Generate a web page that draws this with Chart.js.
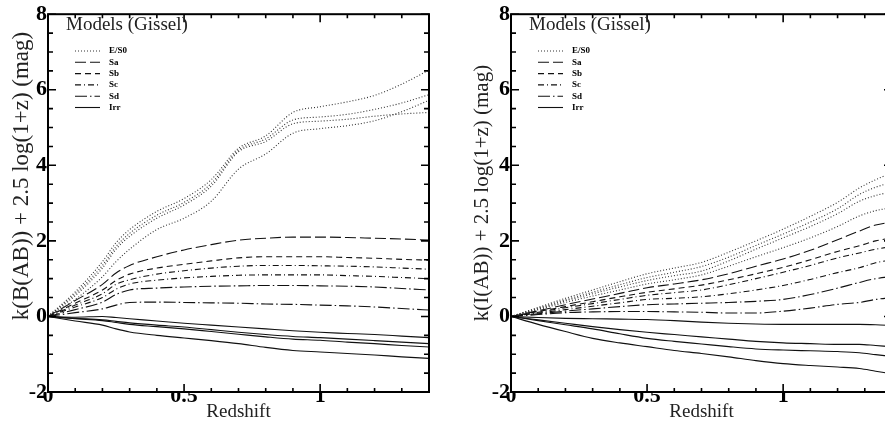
<!DOCTYPE html>
<html>
<head>
<meta charset="utf-8">
<script src="https://cdn.jsdelivr.net/npm/chart.js@4.4.1/dist/chart.umd.min.js"></script>
<style>
  html, body { margin: 0; padding: 0; background: #fff; overflow: hidden; width: 885px; height: 423px; }
  canvas { position: absolute; top: 0; }
</style>
</head>
<body>
<canvas id="chartB" width="440" height="423" style="left:0"></canvas>
<canvas id="chartI" width="460" height="423" style="left:440px"></canvas>
<script>
// k-corrections, Gissel models
const modelTypes = ["E/S0", "Sa", "Sb", "Sc", "Sd", "Irr"];

// B band (left panel)
const zB = [0, 0.1, 0.2, 0.25, 0.3, 0.4, 0.5, 0.6, 0.7, 0.8, 0.9, 1.0, 1.1, 1.2, 1.3, 1.4];
const bE1 = [0, 0.65, 1.45, 1.95, 2.3, 2.78, 3.12, 3.62, 4.45, 4.78, 5.4, 5.55, 5.68, 5.85, 6.15, 6.52];
const bE2 = [0, 0.6, 1.35, 1.85, 2.2, 2.68, 3.02, 3.52, 4.4, 4.7, 5.2, 5.28, 5.35, 5.48, 5.65, 5.87];
const bE3 = [0, 0.55, 1.28, 1.78, 2.12, 2.6, 2.95, 3.45, 4.36, 4.63, 5.1, 5.17, 5.22, 5.3, 5.36, 5.4];
const bE4 = [0, 0.45, 1.05, 1.45, 1.78, 2.3, 2.6, 3.05, 3.9, 4.3, 4.85, 4.97, 5.05, 5.18, 5.42, 5.72];
const bSa = [0, 0.42, 0.85, 1.15, 1.35, 1.58, 1.76, 1.9, 2.02, 2.07, 2.1, 2.1, 2.09, 2.07, 2.05, 2.02];
const bSb = [0, 0.35, 0.7, 0.95, 1.12, 1.28, 1.38, 1.47, 1.55, 1.58, 1.58, 1.58, 1.56, 1.54, 1.51, 1.49];
const bSc1 = [0, 0.3, 0.6, 0.85, 0.97, 1.12, 1.21, 1.28, 1.33, 1.35, 1.35, 1.34, 1.33, 1.31, 1.28, 1.25];
const bSc2 = [0, 0.25, 0.5, 0.72, 0.86, 0.96, 1.02, 1.06, 1.09, 1.1, 1.1, 1.1, 1.08, 1.06, 1.03, 1.0];
const bSd1 = [0, 0.18, 0.38, 0.58, 0.7, 0.75, 0.78, 0.8, 0.81, 0.82, 0.82, 0.81, 0.8, 0.78, 0.74, 0.7];
const bSd2 = [0, 0.1, 0.2, 0.3, 0.37, 0.38, 0.37, 0.36, 0.35, 0.33, 0.32, 0.3, 0.28, 0.25, 0.21, 0.17];
const bIrr1 = [0, -0.02, 0.0, -0.03, -0.06, -0.12, -0.18, -0.23, -0.28, -0.33, -0.38, -0.42, -0.45, -0.48, -0.52, -0.56];
const bIrr2 = [0, -0.05, -0.09, -0.13, -0.17, -0.23, -0.28, -0.35, -0.42, -0.48, -0.53, -0.56, -0.6, -0.64, -0.68, -0.72];
const bIrr3 = [0, -0.06, -0.11, -0.16, -0.21, -0.27, -0.33, -0.4, -0.47, -0.54, -0.6, -0.63, -0.68, -0.72, -0.77, -0.81];
const bIrr4 = [0, -0.12, -0.23, -0.33, -0.41, -0.5, -0.57, -0.64, -0.72, -0.82, -0.9, -0.94, -0.98, -1.02, -1.07, -1.11];

// I band (right panel)
const zI = [0, 0.1, 0.2, 0.3, 0.4, 0.5, 0.6, 0.7, 0.8, 0.9, 1.0, 1.1, 1.2, 1.28, 1.34, 1.4];
const iE1 = [0, 0.24, 0.48, 0.7, 0.92, 1.13, 1.28, 1.43, 1.7, 2.0, 2.31, 2.65, 3.02, 3.4, 3.62, 3.8];
const iE2 = [0, 0.22, 0.44, 0.64, 0.84, 1.03, 1.17, 1.32, 1.57, 1.88, 2.18, 2.5, 2.85, 3.23, 3.42, 3.55];
const iE3 = [0, 0.2, 0.41, 0.6, 0.78, 0.95, 1.08, 1.2, 1.47, 1.78, 2.08, 2.38, 2.72, 3.05, 3.2, 3.3];
const iE4 = [0, 0.18, 0.37, 0.54, 0.7, 0.86, 0.97, 1.1, 1.33, 1.58, 1.82, 2.08, 2.38, 2.66, 2.8, 2.88];
const iSa = [0, 0.15, 0.31, 0.46, 0.61, 0.76, 0.86, 0.97, 1.13, 1.33, 1.52, 1.75, 2.03, 2.26, 2.42, 2.5];
const iSb = [0, 0.13, 0.26, 0.39, 0.52, 0.64, 0.73, 0.83, 0.97, 1.13, 1.3, 1.5, 1.72, 1.87, 2.0, 2.08];
const iSc1 = [0, 0.11, 0.23, 0.34, 0.45, 0.56, 0.63, 0.7, 0.84, 1.0, 1.17, 1.35, 1.55, 1.68, 1.78, 1.85];
const iSc2 = [0, 0.09, 0.18, 0.27, 0.36, 0.45, 0.48, 0.52, 0.6, 0.7, 0.82, 0.98, 1.16, 1.29, 1.42, 1.5];
const iSd1 = [0, 0.07, 0.14, 0.2, 0.26, 0.31, 0.33, 0.35, 0.37, 0.4, 0.45, 0.58, 0.75, 0.9, 1.0, 1.06];
const iSd2 = [0, 0.05, 0.1, 0.12, 0.13, 0.13, 0.12, 0.11, 0.09, 0.09, 0.14, 0.22, 0.32, 0.37, 0.45, 0.5];
const iIrr1 = [0, -0.03, -0.05, -0.06, -0.07, -0.08, -0.11, -0.15, -0.18, -0.2, -0.21, -0.21, -0.21, -0.21, -0.22, -0.24];
const iIrr2 = [0, -0.09, -0.18, -0.27, -0.35, -0.42, -0.48, -0.54, -0.6, -0.66, -0.7, -0.72, -0.74, -0.74, -0.77, -0.8];
const iIrr3 = [0, -0.11, -0.22, -0.33, -0.46, -0.58, -0.66, -0.73, -0.8, -0.86, -0.89, -0.91, -0.93, -0.96, -1.01, -1.06];
const iIrr4 = [0, -0.21, -0.4, -0.58, -0.7, -0.8, -0.9, -0.98, -1.07, -1.17, -1.25, -1.3, -1.34, -1.38, -1.45, -1.52];

const xTicksMinor = [0, 0.1, 0.2, 0.3, 0.4, 0.5, 0.6, 0.7, 0.8, 0.9, 1, 1.1, 1.2, 1.3, 1.4];
const yRange = [-2, 8];

const serif = "'Liberation Serif', 'Times New Roman', serif";

const lineStyles = {
  "E/S0": { dash: [1, 2], color: "#333" },
  "Sa": { dash: [11, 4], color: "#111" },
  "Sb": { dash: [6, 4], color: "#111" },
  "Sc": { dash: [6, 3, 1, 3], color: "#111" },
  "Sd": { dash: [12, 3, 1.5, 3], color: "#111" },
  "Irr": { dash: [], color: "#111" },
};

function makeDatasets(z, curves) {
  return curves.map(([type, vals]) => ({
    label: type,
    data: z.map((zz, i) => ({ x: zz, y: vals[i] })),
    borderColor: lineStyles[type].color,
    borderDash: lineStyles[type].dash,
    borderWidth: 1.1,
    pointRadius: 0,
    fill: false,
    cubicInterpolationMode: "monotone",
  }));
}

// axes frame, inward ticks, y title, header and legend
const panelDeco = {
  id: "panelDeco",
  afterDraw(chart, args, opts) {
    const { ctx, chartArea: a } = chart;
    const x = chart.scales.x, y = chart.scales.y;
    ctx.save();
    ctx.strokeStyle = "#000";
    ctx.lineWidth = 2;
    ctx.setLineDash([]);
    ctx.strokeRect(a.left, a.top, a.right - a.left, a.bottom - a.top);

    ctx.lineWidth = 1.6;
    ctx.beginPath();
    xTicksMinor.forEach((v, i) => {
      const px = x.getPixelForValue(v);
      const len = i % 5 === 0 ? 8 : 4;
      ctx.moveTo(px, a.bottom); ctx.lineTo(px, a.bottom - len);
      ctx.moveTo(px, a.top); ctx.lineTo(px, a.top + len);
    });
    for (let v = yRange[0]; v <= yRange[1]; v += 0.5) {
      const py = y.getPixelForValue(v);
      const len = v % 2 === 0 ? 8 : 5;
      ctx.moveTo(a.left, py); ctx.lineTo(a.left + len, py);
      ctx.moveTo(a.right, py); ctx.lineTo(a.right - len, py);
    }
    ctx.stroke();

    // y title
    ctx.fillStyle = "#222";
    ctx.font = opts.yTitleSize + "px " + serif;
    ctx.textAlign = "center";
    ctx.textBaseline = "middle";
    ctx.save();
    ctx.translate(a.left - opts.yTitleDx, opts.yTitleY);
    ctx.rotate(-Math.PI / 2);
    ctx.fillText(opts.yTitle, 0, 0);
    ctx.restore();

    // header
    ctx.font = "19px " + serif;
    ctx.textAlign = "left";
    ctx.textBaseline = "alphabetic";
    ctx.fillText("Models (Gissel)", a.left + 18, 30);

    // legend
    ctx.font = "bold 9px " + serif;
    ctx.textBaseline = "middle";
    modelTypes.forEach((t, i) => {
      const ly = 51 + i * 11.3;
      ctx.strokeStyle = lineStyles[t].color;
      ctx.lineWidth = 1.1;
      ctx.setLineDash(lineStyles[t].dash);
      ctx.beginPath();
      ctx.moveTo(a.left + 27, ly);
      ctx.lineTo(a.left + 52, ly);
      ctx.stroke();
      ctx.fillStyle = "#000";
      ctx.fillText(t, a.left + 61, ly);
    });
    ctx.restore();
  },
};

function makeOptions(leftWidth, padRight, deco) {
  return {
    responsive: false,
    animation: false,
    devicePixelRatio: 1,
    layout: { padding: { left: 0, right: padRight, top: 12, bottom: 0 } },
    plugins: {
      legend: { display: false },
      tooltip: { enabled: false },
      panelDeco: deco,
    },
    scales: {
      x: {
        type: "linear",
        min: 0,
        max: 1.4,
        grid: { display: false, drawTicks: false },
        border: { display: false },
        afterFit: (s) => { s.height = 31; },
        ticks: {
          stepSize: 0.5,
          padding: -9,
          color: "#000",
          font: { family: serif, size: 22, weight: "bold" },
          maxRotation: 0,
          callback: (v) => (Math.abs(v * 2 - Math.round(v * 2)) < 1e-6 ? String(v) : null),
        },
        title: {
          display: true,
          text: "Redshift",
          color: "#222",
          font: { family: serif, size: 19 },
          padding: { top: 0, bottom: 0 },
        },
      },
      y: {
        min: yRange[0],
        max: yRange[1],
        grid: { display: false, drawTicks: false },
        border: { display: false },
        afterFit: (s) => { s.width = leftWidth; },
        ticks: {
          stepSize: 2,
          padding: 1,
          color: "#000",
          font: { family: serif, size: 22, weight: "bold" },
          callback: (v) => String(v),
        },
      },
    },
  };
}

const chartB = new Chart(document.getElementById("chartB"), {
  type: "line",
  data: {
    datasets: makeDatasets(zB, [
      ["E/S0", bE1], ["E/S0", bE2], ["E/S0", bE3], ["E/S0", bE4],
      ["Sa", bSa], ["Sb", bSb], ["Sc", bSc1], ["Sc", bSc2], ["Sd", bSd1], ["Sd", bSd2],
      ["Irr", bIrr1], ["Irr", bIrr2], ["Irr", bIrr3], ["Irr", bIrr4],
    ]),
  },
  plugins: [panelDeco],
  options: makeOptions(48, 11, {
    yTitle: "k(B(AB)) + 2.5 log(1+z) (mag)", yTitleSize: 23, yTitleDx: 26, yTitleY: 176,
  }),
});

const chartI = new Chart(document.getElementById("chartI"), {
  type: "line",
  data: {
    datasets: makeDatasets(zI, [
      ["E/S0", iE1], ["E/S0", iE2], ["E/S0", iE3], ["E/S0", iE4],
      ["Sa", iSa], ["Sb", iSb], ["Sc", iSc1], ["Sc", iSc2], ["Sd", iSd1], ["Sd", iSd2],
      ["Irr", iIrr1], ["Irr", iIrr2], ["Irr", iIrr3], ["Irr", iIrr4],
    ]),
  },
  plugins: [panelDeco],
  options: makeOptions(71, 8, {
    yTitle: "k(I(AB)) + 2.5 log(1+z) (mag)", yTitleSize: 21, yTitleDx: 29, yTitleY: 193,
  }),
});
</script>
</body>
</html>
